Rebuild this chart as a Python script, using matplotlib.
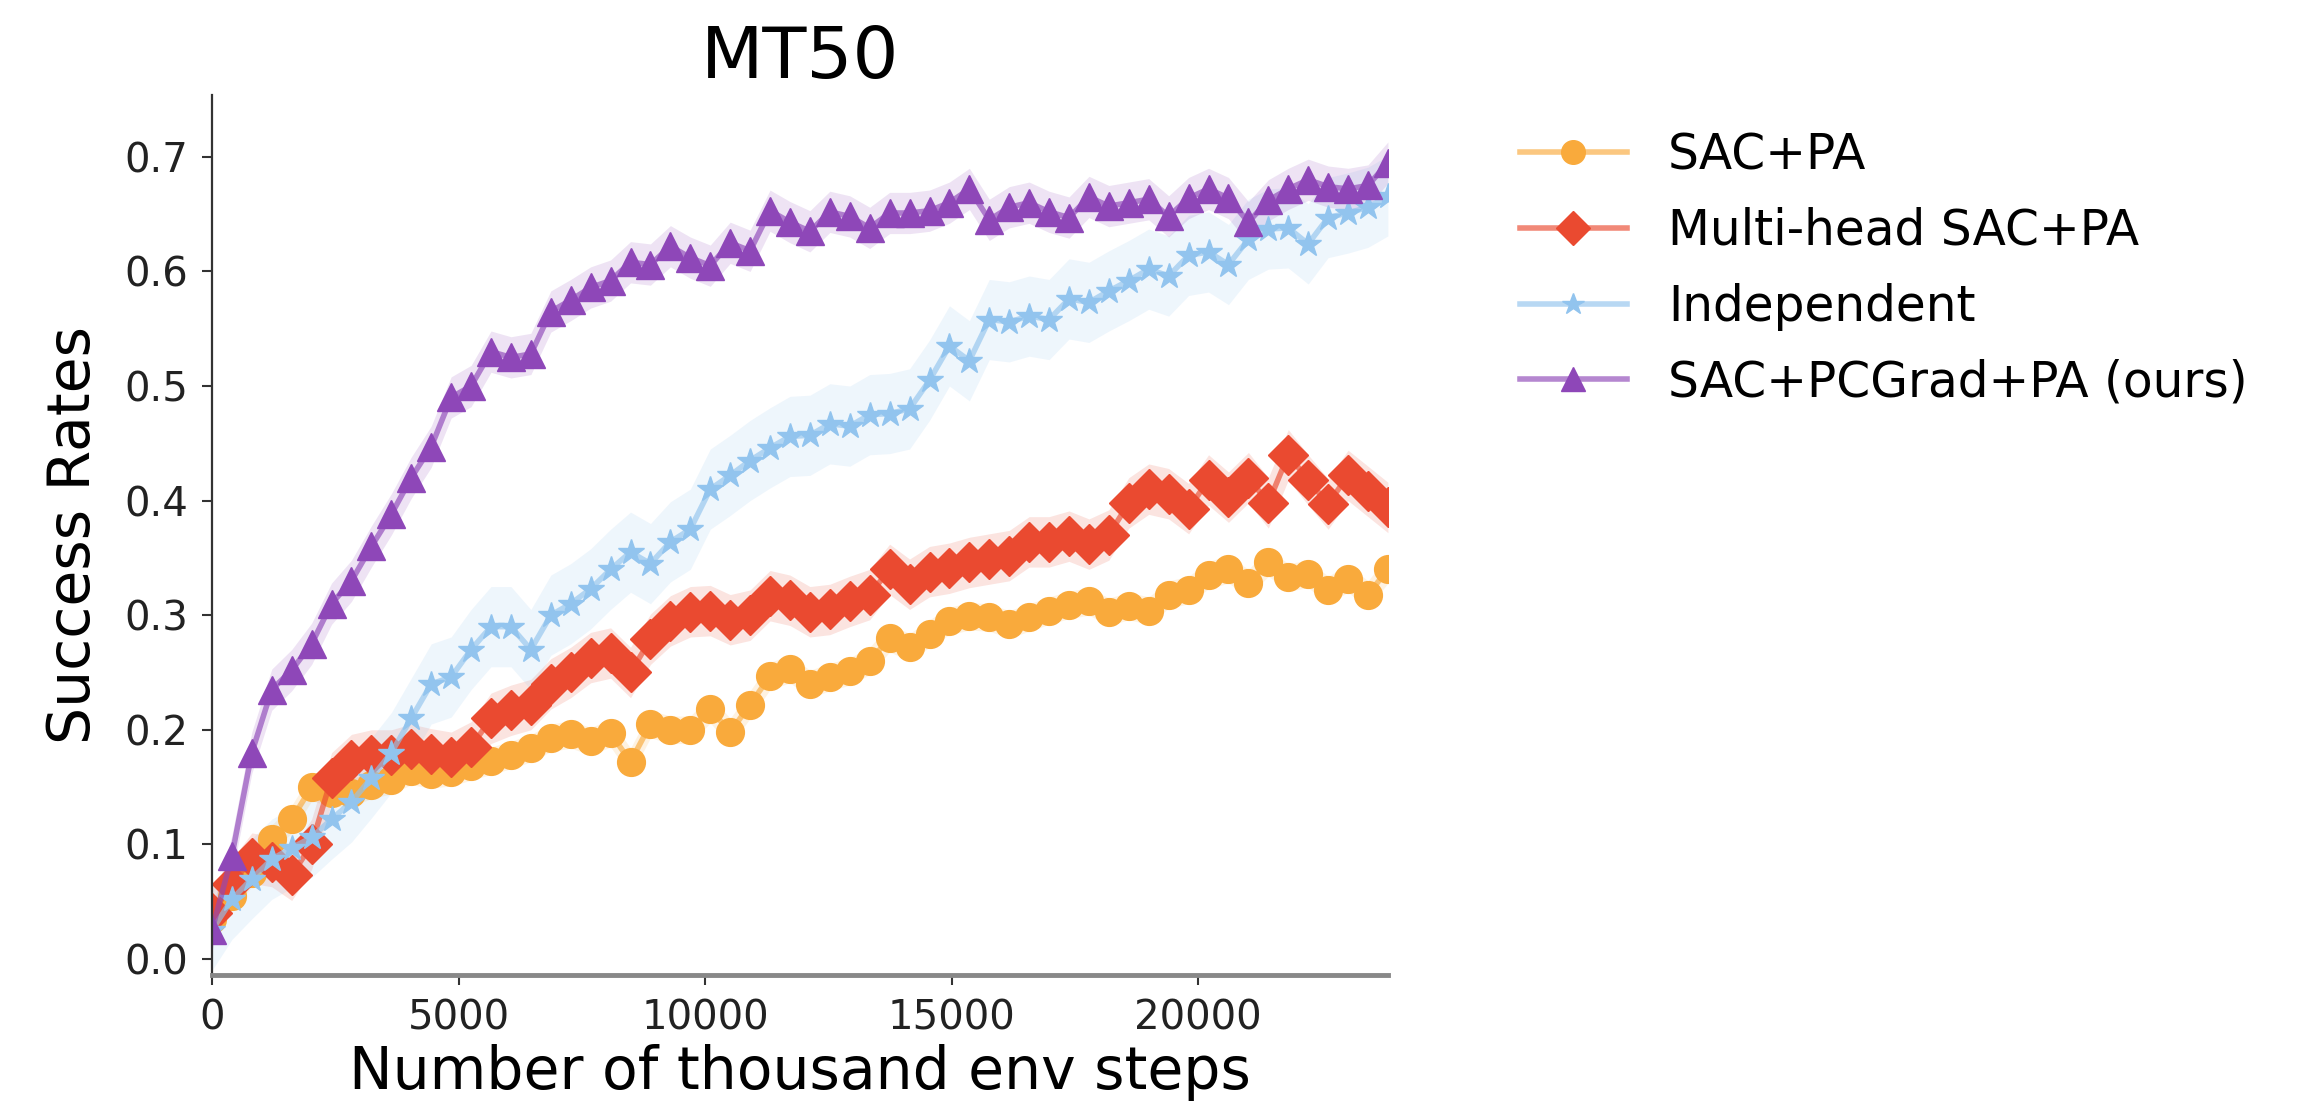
import numpy as np
import matplotlib
matplotlib.use("Agg")
import matplotlib.pyplot as plt

# x grid: thousand env steps (one value read every ~400)
steps = np.linspace(0, 23850, 60)

sac_pa = [0.035, 0.055, 0.075, 0.105, 0.122, 0.150, 0.145, 0.145, 0.152, 0.156,
          0.164, 0.161, 0.163, 0.168, 0.173, 0.178, 0.184, 0.193, 0.196, 0.190,
          0.197, 0.172, 0.205, 0.200, 0.200, 0.218, 0.198, 0.222, 0.247, 0.253,
          0.240, 0.246, 0.251, 0.260, 0.280, 0.272, 0.284, 0.295, 0.299, 0.298,
          0.292, 0.298, 0.304, 0.309, 0.312, 0.303, 0.308, 0.304, 0.318, 0.322,
          0.335, 0.340, 0.328, 0.346, 0.333, 0.336, 0.322, 0.332, 0.318, 0.340]

multihead = [0.040, 0.065, 0.088, 0.085, 0.073, 0.100, 0.158, 0.174, 0.178, 0.178,
             0.183, 0.179, 0.176, 0.185, 0.210, 0.217, 0.222, 0.240, 0.250, 0.263,
             0.267, 0.250, 0.279, 0.295, 0.303, 0.304, 0.296, 0.300, 0.317, 0.313,
             0.303, 0.305, 0.312, 0.318, 0.340, 0.327, 0.338, 0.341, 0.346, 0.349,
             0.352, 0.364, 0.364, 0.369, 0.362, 0.370, 0.398, 0.410, 0.406, 0.393,
             0.418, 0.403, 0.420, 0.398, 0.440, 0.418, 0.397, 0.422, 0.408, 0.394]

independent = [0.025, 0.052, 0.070, 0.087, 0.097, 0.106, 0.122, 0.137, 0.158, 0.180,
               0.210, 0.240, 0.246, 0.270, 0.290, 0.290, 0.270, 0.300, 0.310, 0.323,
               0.340, 0.355, 0.345, 0.364, 0.375, 0.410, 0.422, 0.435, 0.446, 0.456,
               0.457, 0.467, 0.465, 0.475, 0.476, 0.480, 0.505, 0.535, 0.522, 0.558,
               0.556, 0.561, 0.558, 0.576, 0.573, 0.583, 0.592, 0.602, 0.596, 0.614,
               0.617, 0.606, 0.628, 0.637, 0.638, 0.624, 0.647, 0.651, 0.656, 0.666]

pcgrad = [0.025, 0.090, 0.180, 0.235, 0.252, 0.275, 0.310, 0.330, 0.360, 0.388,
          0.420, 0.447, 0.490, 0.500, 0.530, 0.525, 0.528, 0.565, 0.575, 0.586,
          0.592, 0.608, 0.606, 0.622, 0.612, 0.605, 0.625, 0.618, 0.653, 0.643,
          0.635, 0.652, 0.648, 0.638, 0.651, 0.651, 0.653, 0.660, 0.672, 0.645,
          0.656, 0.660, 0.652, 0.647, 0.665, 0.657, 0.660, 0.663, 0.648, 0.664,
          0.672, 0.664, 0.643, 0.662, 0.672, 0.680, 0.674, 0.672, 0.675, 0.695]

labels = ["SAC+PA", "Multi-head SAC+PA", "Independent", "SAC+PCGrad+PA (ours)"]
series = [sac_pa, multihead, independent, pcgrad]
spread = [0.012, 0.022, 0.035, 0.018]
colors = ["#f9aa3c", "#ea4a30", "#92c4ee", "#8e47b8"]
markers = ["o", "D", "*", "^"]
msizes = [20, 20, 19, 20]

fig = plt.figure(figsize=(23.04, 11.12), dpi=100)
ax = fig.add_axes([0.092, 0.1232, 0.5104, 0.7914])

handles = []
for y, lab, c, m, ms, s in zip(series, labels, colors, markers, msizes, spread):
    y = np.array(y)
    ax.fill_between(steps, y - s, y + s, color=c, alpha=0.15, lw=0)
    line_c = matplotlib.colors.to_rgba(c, 0.65)
    h, = ax.plot(steps, y, color=line_c, lw=4, marker=m, ms=ms,
                 mfc=c, mec=c, label=lab)
    handles.append(h)

ax.set_xlim(0, 23850)
ax.set_ylim(-0.014, 0.754)
ax.set_xticks([0, 5000, 10000, 15000, 20000])
ax.set_yticks([0.0, 0.1, 0.2, 0.3, 0.4, 0.5, 0.6, 0.7])
ax.set_yticklabels(["0.0", "0.1", "0.2", "0.3", "0.4", "0.5", "0.6", "0.7"])

for side in ["top", "right"]:
    ax.spines[side].set_visible(False)
ax.spines["left"].set_color("#333333")
ax.spines["left"].set_linewidth(1.6)
ax.spines["bottom"].set_color("#888888")
ax.spines["bottom"].set_linewidth(3.5)
ax.tick_params(axis="both", labelsize=29, length=7, width=1.5, pad=10,
               colors="#333333", labelcolor="#222222")

ax.set_title("MT50", fontsize=52, pad=12)
ax.set_xlabel("Number of thousand env steps", fontsize=42, labelpad=4)
ax.set_ylabel("Success Rates", fontsize=42, labelpad=16)

fig.legend(handles=handles, loc="upper left", bbox_to_anchor=(0.6597, 0.882),
           frameon=False, fontsize=35, borderpad=0, borderaxespad=0,
           handlelength=2.2, handletextpad=0.85, labelspacing=0.57,
           markerscale=0.85)

fig.savefig("out.png", dpi=100, facecolor="white")
